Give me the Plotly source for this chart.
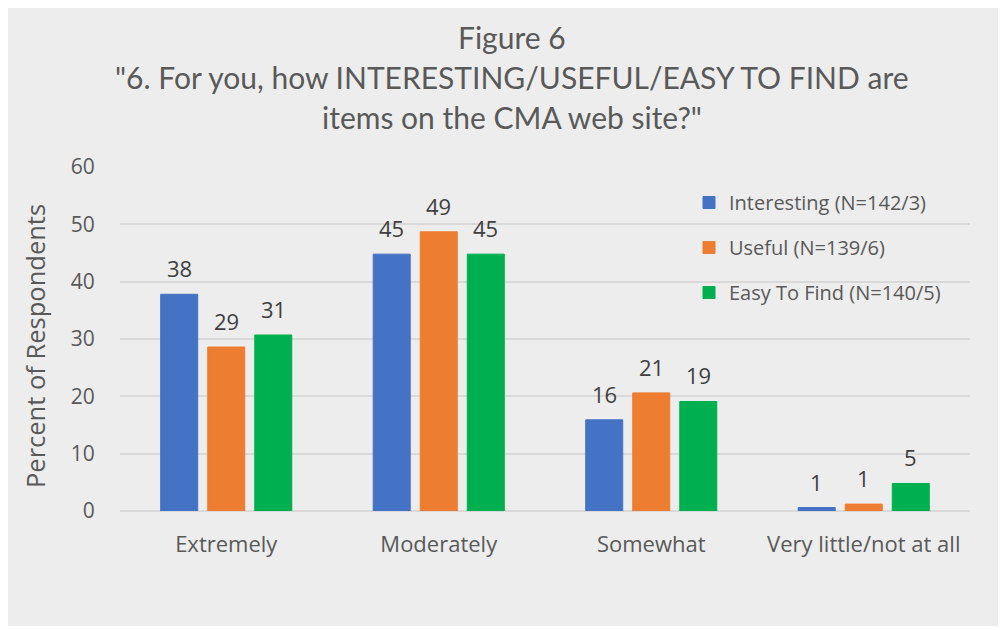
import plotly.graph_objects as go

categories = ["Extremely", "Moderately", "Somewhat", "Very little/not at all"]
series_names = ["Interesting (N=142/3)", "Useful (N=139/6)", "Easy To Find (N=140/5)"]
interesting = [37.8, 44.8, 15.9, 0.6]
useful = [28.6, 48.7, 20.6, 1.2]
easy = [30.7, 44.8, 19.1, 4.8]
labels_interesting = ["38", "45", "16", "1"]
labels_useful = ["29", "49", "21", "1"]
labels_easy = ["31", "45", "19", "5"]
colors = ["#4472C4", "#ED7D31", "#00B050"]
y_ticks = [0, 10, 20, 30, 40, 50, 60]

series_values = [interesting, useful, easy]
series_labels = [labels_interesting, labels_useful, labels_easy]

# page offset: browser body margin of 8px
OFF = 8
W, H = 1000 - OFF, 626 - OFF
L, R, T, B = 120 - OFF, 970 - OFF, 167 - OFF, 511 - OFF
pw, ph = R - L, B - T

def px_x(x):
    return (x - OFF - L) / pw

def px_y(y):
    return (B - (y - OFF)) / ph

BARGAP = 0.336
BARGROUPGAP = 0.213
slot = (1 - BARGAP) / 3

fig = go.Figure()
for name, vals, col in zip(series_names, series_values, colors):
    fig.add_trace(go.Bar(
        x=categories, y=vals, name=name, legendgroup=name,
        marker=dict(color=col, line=dict(color=col, width=1)),
        hoverinfo="x+y+name",
    ))

annotations = []
for j, (vals, labs) in enumerate(zip(series_values, series_labels)):
    for i, (v, lab) in enumerate(zip(vals, labs)):
        annotations.append(dict(
            x=i + (j - 1) * slot, y=v, xref="x", yref="y", text=lab,
            showarrow=False, yanchor="bottom", xanchor="center", yshift=9,
            font=dict(family="Open Sans", size=22, color="#404040")))

title_font = dict(family="Lato", size=30, color="#595959")
for txt, yy in [("Figure 6", 37),
                ("\"6. For you, how INTERESTING/USEFUL/EASY TO FIND are", 77),
                ("items on the CMA web site?\"", 117)]:
    annotations.append(dict(text=txt, xref="paper", yref="paper", x=px_x(512), y=px_y(yy),
                            xanchor="center", yanchor="middle", showarrow=False, font=title_font))

annotations.append(dict(text="Percent of Respondents", xref="paper", yref="paper",
                        x=px_x(35), y=px_y(346), xanchor="center", yanchor="middle",
                        textangle=-90, showarrow=False,
                        font=dict(family="Open Sans", size=25.5, color="#595959")))

fig.update_layout(
    width=W, height=H,
    margin=dict(l=L, r=W - R, t=T, b=H - B, pad=0),
    paper_bgcolor="#EDEDED",
    plot_bgcolor="rgba(0,0,0,0)",
    barmode="group",
    bargap=BARGAP,
    bargroupgap=BARGROUPGAP,
    font=dict(family="Open Sans", color="#595959"),
    legend=dict(x=px_x(689), y=px_y(183), xanchor="left", yanchor="top",
                bgcolor="rgba(0,0,0,0)", tracegroupgap=16,
                font=dict(family="Open Sans", size=20, color="#595959")),
    showlegend=True,
    annotations=annotations,
)
fig.update_xaxes(range=[-0.5, 3.5], showgrid=False, showline=False, ticks="outside", ticklen=14,
                 tickcolor="rgba(0,0,0,0)",
                 tickfont=dict(family="Open Sans", size=22, color="#595959"))
fig.update_yaxes(range=[0, 60], tickvals=y_ticks, showgrid=True, gridcolor="#D9D9D9",
                 gridwidth=1.5, zeroline=True, zerolinecolor="#D9D9D9", zerolinewidth=1.5,
                 ticks="outside", ticklen=20, tickcolor="rgba(0,0,0,0)",
                 tickfont=dict(family="Open Sans", size=21, color="#595959"))

fig.write_html("out.html")
